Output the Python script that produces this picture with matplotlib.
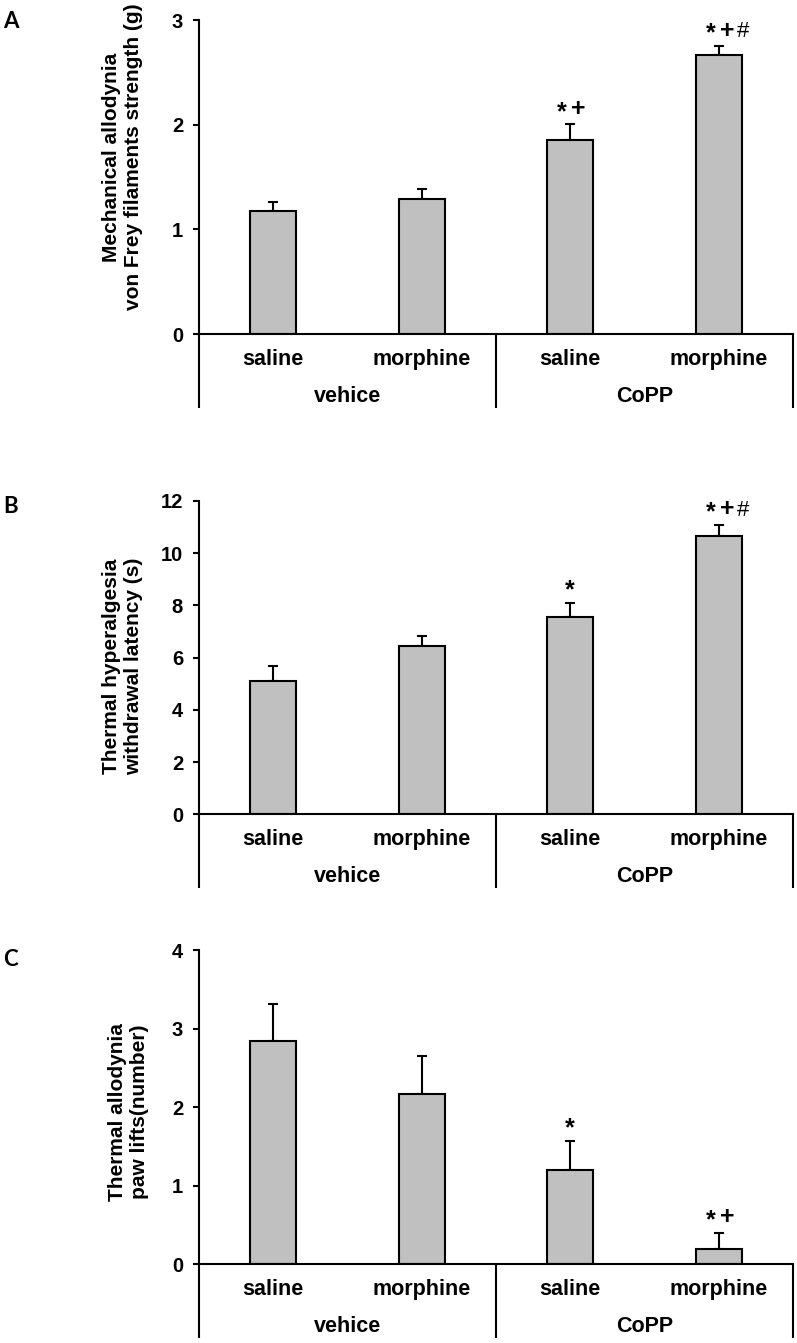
import matplotlib
matplotlib.use('Agg')
import matplotlib.pyplot as plt
from matplotlib.transforms import blended_transform_factory

# ---------------- data ----------------
treatments = ['saline', 'morphine', 'saline', 'morphine']
groups = ['vehice', 'CoPP']
panel_letters = ['A', 'B', 'C']
ylabels = ['Mechanical allodynia\nvon Frey filaments strength (g)',
           'Thermal hyperalgesia\nwithdrawal latency (s)',
           'Thermal allodynia\npaw lifts(number)']

mech_mean = [1.175, 1.293, 1.849, 2.663]
mech_sem = [0.083, 0.095, 0.153, 0.086]
heat_mean = [5.12, 6.43, 7.55, 10.64]
heat_sem = [0.56, 0.41, 0.56, 0.44]
cold_mean = [2.837, 2.166, 1.197, 0.195]
cold_sem = [0.475, 0.484, 0.374, 0.200]

mech_marks = ['', '', '*+', '*+#']
heat_marks = ['', '', '*', '*+#']
cold_marks = ['', '', '*', '*+']

mech_ticks = [0, 1, 2, 3]
heat_ticks = [0, 2, 4, 6, 8, 10, 12]
cold_ticks = [0, 1, 2, 3, 4]

# ---------------- style ----------------
FONT = 'Liberation Sans'
plt.rcParams['font.family'] = [FONT, 'DejaVu Sans']
BAR_COLOR = '#c0c0c0'
LW = 1.5

# per-symbol style: (font size, weight, baseline offset in points)
sym_style = {'*': (18, 'bold', 4.0),
             '+': (18, 'bold', 6.3),
             '#': (16, 'normal', 6.8)}
SYM_STEP = 11.8  # points between symbol centres

fig = plt.figure(figsize=(7.97, 13.43), dpi=100)

rects = [[0.2497, 0.7513, 0.7453, 0.2338],
         [0.2497, 0.3937, 0.7453, 0.2333],
         [0.2497, 0.0588, 0.7453, 0.2338]]
letter_y = [1 - 21.5 / 1343, 1 - 506.5 / 1343, 1 - 960 / 1343]
label_pos = [(-0.128, 0.564), (-0.128, 0.471), (-0.118, 0.485)]

panels = [(mech_mean, mech_sem, mech_marks, mech_ticks),
          (heat_mean, heat_sem, heat_marks, heat_ticks),
          (cold_mean, cold_sem, cold_marks, cold_ticks)]

x = list(range(len(treatments)))
ext = 0.235

for i, (mean, sem, marks, ticks) in enumerate(panels):
    ax = fig.add_axes(rects[i])
    ax.bar(x, mean, width=0.31, color=BAR_COLOR, edgecolor='black',
           linewidth=LW, zorder=2)
    ax.errorbar(x, mean, yerr=[[0] * len(sem), sem], fmt='none',
                ecolor='black', elinewidth=LW, capsize=3.5, capthick=LW,
                zorder=1)
    ax.set_xlim(-0.5, 3.5)
    ax.set_ylim(ticks[0], ticks[-1])
    ax.set_yticks(ticks)
    ax.set_yticklabels([str(t) for t in ticks], fontsize=14.5,
                       fontweight='bold')
    ax.set_xticks([])
    for s in ['top', 'right']:
        ax.spines[s].set_visible(False)
    for s in ['left', 'bottom']:
        ax.spines[s].set_linewidth(LW)
    ax.tick_params(axis='y', length=4.5, width=LW, pad=7, direction='out')

    tr = blended_transform_factory(ax.transData, ax.transAxes)
    for xv in [-0.5, 1.5, 3.5]:
        ax.plot([xv, xv], [0, -ext], transform=tr, color='black',
                lw=LW, clip_on=False, solid_capstyle='butt')
    for xi, name in zip(x, treatments):
        ax.text(xi, -0.08, name, transform=tr, ha='center', va='center',
                fontsize=15.5, fontweight='bold')
    for gi, g in enumerate(groups):
        ax.text(0.5 + 2 * gi, -0.20, g, transform=tr, ha='center',
                va='center', fontsize=15.5, fontweight='bold')

    for xi, m, s, mk in zip(x, mean, sem, marks):
        n = len(mk)
        for k, ch in enumerate(mk):
            fs, fw, dy = sym_style[ch]
            dx = 0 if n == 1 else (k - 0.5) * SYM_STEP
            ax.annotate(ch, xy=(xi, m + s), xytext=(dx, dy),
                        textcoords='offset points', ha='center',
                        va='baseline', fontsize=fs, fontweight=fw)

    lx, ly = label_pos[i]
    ax.text(lx, ly, ylabels[i], transform=ax.transAxes, rotation=90,
            ha='center', va='center', multialignment='center',
            fontsize=15, fontweight='bold', linespacing=1.2)

    fig.text(3 / 797, letter_y[i], panel_letters[i], ha='left', va='center',
             fontsize=16, fontweight='bold', family=['Lato', 'DejaVu Sans'])

fig.savefig('out.png', dpi=100, facecolor='white')
